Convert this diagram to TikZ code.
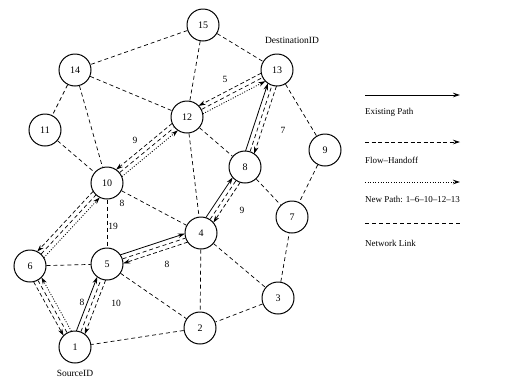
\documentclass[tikz,border=0pt]{standalone}
\usepackage{fontspec}
\setmainfont{Liberation Serif}
\usetikzlibrary{arrows.meta, calc}

% one of three parallel lines between two stations
\newcommand{\offline}[4]{\draw[#4] ($(#1)!#3!90:(#2)$) -- ($(#2)!#3!-90:(#1)$);}

\tikzset{
  stn/.style={circle, draw, line width=1pt, minimum size=32pt, inner sep=0pt, font=\fontsize{10}{10}\selectfont},
  netlink/.style={dash pattern=on 4pt off 3pt, line width=0.7pt},
  tipstyle/.style={-{Stealth[length=7pt,width=4.5pt]}, shorten <=15.5pt, shorten >=15.5pt},
  exist/.style={tipstyle, line width=0.8pt},
  handoff/.style={tipstyle, dash pattern=on 4pt off 2.5pt, line width=0.7pt},
  newpath/.style={tipstyle, dash pattern=on 1pt off 1.6pt, line width=0.8pt},
  elab/.style={font=\fontsize{9.5}{10}\selectfont, inner sep=1pt},
  legtxt/.style={anchor=west, font=\fontsize{9}{10}\selectfont, inner sep=0pt}
}

\begin{document}
\begin{tikzpicture}[x=1pt, y=-1pt]
  \useasboundingbox (0,0) rectangle (505,381);

  % stations
  \node[stn] (n15) at (203,25)  {15};
  \node[stn] (n14) at (75,70)   {14};
  \node[stn] (n13) at (277,70)  {13};
  \node[stn] (n11) at (45,130)  {11};
  \node[stn] (n12) at (187,117) {12};
  \node[stn] (n9)  at (325,150) {9};
  \node[stn] (n8)  at (245,167) {8};
  \node[stn] (n10) at (107,183) {10};
  \node[stn] (n7)  at (292,217) {7};
  \node[stn] (n4)  at (201,233) {4};
  \node[stn] (n6)  at (30,266)  {6};
  \node[stn] (n5)  at (107,264) {5};
  \node[stn] (n3)  at (278,298) {3};
  \node[stn] (n2)  at (200,328) {2};
  \node[stn] (n1)  at (75,347)  {1};

  \node[elab] (dest) at (292,40)  {DestinationID};
  \node[elab] (src)  at (75,373)  {SourceID};

  % network links
  \foreach \a/\b in {n15/n14, n15/n12, n15/n13, n14/n11, n14/n10, n14/n12,
                     n11/n10, n12/n8, n12/n4, n13/n9, n9/n7, n8/n7, n10/n4,
                     n10/n5, n6/n5, n5/n2, n4/n2, n4/n3, n3/n7, n3/n2, n2/n1,
                     n1/n5, n5/n4, n4/n8, n8/n13, n1/n6, n6/n10, n10/n12, n12/n13}
    \draw[netlink] (\a) -- (\b);

  % existing path and its flow handoff
  \foreach \a/\b in {n1/n5, n5/n4, n4/n8, n8/n13}
  {
    \offline{\a}{\b}{4.5pt}{exist}
    \offline{\b}{\a}{4.5pt}{handoff}
  }

  % new path and its flow handoff
  \foreach \a/\b in {n1/n6, n6/n10, n10/n12, n12/n13}
  {
    \offline{\a}{\b}{-4.5pt}{newpath}
    \offline{\b}{\a}{-4.5pt}{handoff}
  }

  % link costs
  \node[elab] (c1) at (225,79)  {5};
  \node[elab] (c2) at (135,140) {9};
  \node[elab] (c3) at (122,203) {8};
  \node[elab] (c4) at (113,226) {19};
  \node[elab] (c5) at (167,264) {8};
  \node[elab] (c6) at (242,210) {9};
  \node[elab] (c7) at (283,130) {7};
  \node[elab] (c8) at (82,302)  {8};
  \node[elab] (c9) at (116,303) {10};

  % legend
  \node[legtxt] (lex) at (365,112) {Existing Path};
  \node[legtxt] (lho) at (365,160) {Flow--Handoff};
  \node[legtxt] (lnp) at (365,199) {New Path: 1--6--10--12--13};
  \node[legtxt] (lnl) at (365,243) {Network Link};
  \coordinate (e0) at (365,95);  \coordinate (e1) at (460,95);
  \coordinate (h0) at (365,142); \coordinate (h1) at (460,142);
  \coordinate (p0) at (365,182); \coordinate (p1) at (460,182);
  \coordinate (k0) at (365,223); \coordinate (k1) at (460,223);
  \draw[exist, shorten <=0pt, shorten >=0pt] (e0) -- (e1);
  \draw[handoff, shorten <=0pt, shorten >=0pt] (h0) -- (h1);
  \draw[newpath, shorten <=0pt, shorten >=0pt] (p0) -- (p1);
  \draw[netlink] (k0) -- (k1);
\end{tikzpicture}
\end{document}
